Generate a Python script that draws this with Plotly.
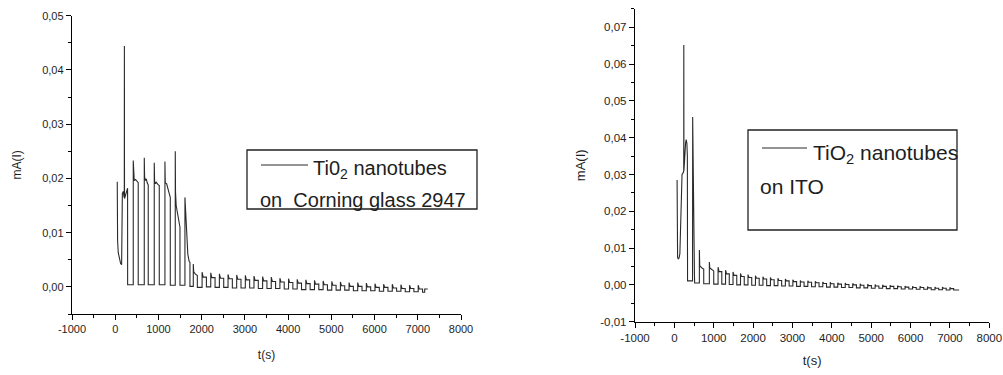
import plotly.graph_objects as go

W, H = 1003, 375

# ---------------- Left panel data (TiO2 nanotubes on Corning glass 2947) ----------------
# irregular start + large chopped cycles
t_left_head = [47, 49, 55, 70, 95, 125, 148, 152, 165, 185, 205, 210, 212, 215, 235, 255, 275, 286, 287,
               417, 417, 425, 440, 470, 500, 532, 532,
               672, 672, 680, 700, 720, 740, 764, 764,
               903, 903, 911, 930, 950, 985, 1019, 1019,
               1150, 1150, 1158, 1190, 1220, 1250, 1274, 1274,
               1389, 1389, 1395, 1410, 1440, 1470, 1498, 1498,
               1613, 1613, 1625, 1650, 1680, 1710, 1729, 1729,
               1806, 1806, 1816, 1850, 1900, 1900]
i_left_head = [0.0194, 0.0125, 0.0085, 0.0063, 0.0050, 0.0043, 0.0041, 0.0160, 0.0172, 0.0176, 0.0165, 0.0180, 0.0444, 0.0163, 0.0168, 0.0176, 0.0180, 0.0182, 0.0004,
               0.0004, 0.0233, 0.0205, 0.0196, 0.0198, 0.0195, 0.0192, 0.0004,
               0.0004, 0.0238, 0.0203, 0.0196, 0.0199, 0.0192, 0.0188, 0.0004,
               0.0004, 0.0229, 0.0195, 0.0190, 0.0193, 0.0189, 0.0187, 0.0004,
               0.0004, 0.0231, 0.0192, 0.0190, 0.0183, 0.0172, 0.0165, 0.0003,
               0.0003, 0.0250, 0.0175, 0.0150, 0.0138, 0.0125, 0.0110, 0.0003,
               0.0003, 0.0165, 0.0140, 0.0095, 0.0060, 0.0047, 0.0045, 0.0001,
               0.0001, 0.0042, 0.0028, 0.0024, 0.0021, -0.0001]
# small chopped cycles of the tail: light-on time, light-off time, spike, on-level, off-level
tail_on_L = [2010, 2210, 2410, 2610, 2810, 3010, 3210, 3410, 3610, 3810, 4010, 4210, 4410,
             4610, 4810, 5010, 5210, 5410, 5610, 5810, 6010, 6210, 6410, 6610, 6810, 7010]
tail_off_L = [2110, 2310, 2510, 2710, 2910, 3110, 3310, 3510, 3710, 3910, 4110, 4310, 4510,
              4710, 4910, 5110, 5310, 5510, 5710, 5910, 6110, 6310, 6510, 6710, 6910, 7110]
tail_peak_L = [0.0027, 0.0026, 0.0024, 0.0023, 0.0022, 0.0021, 0.0020, 0.0019, 0.0018, 0.0016, 0.0015, 0.0014, 0.0013,
               0.0012, 0.0011, 0.0010, 0.0009, 0.0008, 0.0008, 0.0007, 0.0006, 0.0005, 0.0005, 0.0004, 0.0003, 0.0003]
tail_level_L = [0.0018, 0.0017, 0.0016, 0.0015, 0.0014, 0.0013, 0.0012, 0.0011, 0.0010, 0.0009, 0.0008, 0.0007, 0.0006,
                0.0005, 0.0004, 0.0003, 0.0002, 0.0001, 0.0001, 0.0000, -0.0001, -0.0001, -0.0002, -0.0003, -0.0003, -0.0004]
tail_base_L = [0.0000, -0.0001, -0.0001, -0.0002, -0.0002, -0.0002, -0.0003, -0.0003, -0.0003, -0.0004, -0.0004, -0.0005, -0.0005,
               -0.0005, -0.0006, -0.0006, -0.0006, -0.0007, -0.0007, -0.0007, -0.0008, -0.0008, -0.0008, -0.0009, -0.0009, -0.0010]
t_left_end = [7160, 7160, 7231]
i_left_end = [-0.0010, -0.0004, -0.0004]

# ---------------- Right panel data (TiO2 nanotubes on ITO) ----------------
t_right_head = [69, 70, 74, 82, 100, 120, 140, 160, 175, 195, 225, 238, 240, 243, 260, 285, 300, 318, 330, 335,
                462, 465, 470, 480, 490, 500, 510, 515,
                635, 635, 645, 700, 746, 746,
                889, 889, 900, 950, 1000, 1000]
i_right_head = [0.0285, 0.0150, 0.0095, 0.0075, 0.0071, 0.0073, 0.0085, 0.0160, 0.0260, 0.0300, 0.0305, 0.0310, 0.0652, 0.0310, 0.0340, 0.0385, 0.0395, 0.0385, 0.0350, 0.0011,
                0.0011, 0.0456, 0.0360, 0.0340, 0.0250, 0.0120, 0.0030, 0.0005,
                0.0005, 0.0095, 0.0052, 0.0046, 0.0043, 0.0003,
                0.0003, 0.0062, 0.0046, 0.0042, 0.0038, 0.0002]
tail_on_R = [1110, 1300, 1490, 1680, 1870, 2060, 2250, 2440, 2630, 2820, 3010, 3200, 3390, 3580, 3770, 3960,
             4150, 4340, 4530, 4720, 4910, 5100, 5290, 5480, 5670, 5860, 6050, 6240, 6430, 6620, 6810, 7000]
tail_off_R = [1205, 1395, 1585, 1775, 1965, 2155, 2345, 2535, 2725, 2915, 3105, 3295, 3485, 3675, 3865, 4055,
              4245, 4435, 4625, 4815, 5005, 5195, 5385, 5575, 5765, 5955, 6145, 6335, 6525, 6715, 6905, 7095]
tail_peak_R = [0.0048, 0.0040, 0.0035, 0.0031, 0.0028, 0.0025, 0.0022, 0.0020, 0.0018, 0.0016, 0.0014, 0.0012, 0.0011, 0.0010, 0.0008, 0.0007,
               0.0006, 0.0005, 0.0004, 0.0003, 0.0002, 0.0001, 0.0000, -0.0001, -0.0002, -0.0003, -0.0004, -0.0004, -0.0005, -0.0006, -0.0006, -0.0007]
tail_level_R = [0.0036, 0.0030, 0.0026, 0.0023, 0.0020, 0.0018, 0.0016, 0.0014, 0.0012, 0.0011, 0.0009, 0.0008, 0.0007, 0.0006, 0.0004, 0.0003,
                0.0002, 0.0001, 0.0000, -0.0001, -0.0002, -0.0003, -0.0004, -0.0004, -0.0005, -0.0006, -0.0007, -0.0007, -0.0008, -0.0009, -0.0009, -0.0010]
tail_base_R = [0.0002, 0.0001, 0.0000, 0.0000, -0.0001, -0.0001, -0.0002, -0.0002, -0.0003, -0.0003, -0.0004, -0.0004, -0.0005, -0.0005, -0.0006, -0.0006,
               -0.0007, -0.0007, -0.0008, -0.0008, -0.0009, -0.0009, -0.0010, -0.0010, -0.0011, -0.0011, -0.0012, -0.0012, -0.0013, -0.0013, -0.0014, -0.0014]
t_right_end = [7233]
i_right_end = [-0.0014]

# tick labels
x_tickvals = [-1000, 0, 1000, 2000, 3000, 4000, 5000, 6000, 7000, 8000]
x_ticktext = ["-1000", "0", "1000", "2000", "3000", "4000", "5000", "6000", "7000", "8000"]
yL_tickvals = [0.00, 0.01, 0.02, 0.03, 0.04, 0.05]
yL_ticktext = ["0,00", "0,01", "0,02", "0,03", "0,04", "0,05"]
yR_tickvals = [-0.01, 0.00, 0.01, 0.02, 0.03, 0.04, 0.05, 0.06, 0.07]
yR_ticktext = ["-0,01", "0,00", "0,01", "0,02", "0,03", "0,04", "0,05", "0,06", "0,07"]


def build(t_head, i_head, on, off, peak, level, base, t_end, i_end):
    t = list(t_head)
    y = list(i_head)
    prev = y[-1]
    for k in range(len(on)):
        t += [on[k], on[k], on[k] + 25, off[k], off[k]]
        y += [prev, peak[k], level[k], level[k], base[k]]
        prev = base[k]
    t += list(t_end)
    y += list(i_end)
    return t, y


tL, yL = build(t_left_head, i_left_head, tail_on_L, tail_off_L, tail_peak_L, tail_level_L, tail_base_L, t_left_end, i_left_end)
tR, yR = build(t_right_head, i_right_head, tail_on_R, tail_off_R, tail_peak_R, tail_level_R, tail_base_R, t_right_end, i_right_end)

TXT = "#1e1e1e"
LINE = dict(color="#2a2a2a", width=1.1)
fig = go.Figure()
fig.add_trace(go.Scatter(x=tL, y=yL, mode="lines", line=LINE, xaxis="x", yaxis="y", showlegend=False, hoverinfo="skip"))
fig.add_trace(go.Scatter(x=tR, y=yR, mode="lines", line=LINE, xaxis="x2", yaxis="y2", showlegend=False, hoverinfo="skip"))

FONT = "Liberation Sans, Arial, sans-serif"


def px_x(p):
    return p / W


def px_y(p):
    return 1 - p / H


axis_common = dict(showline=True, linecolor="black", linewidth=1.4, ticks="outside", ticklen=5,
                   tickwidth=1.2, tickcolor="black", showgrid=False, zeroline=False, mirror=False,
                   tickmode="array")

fig.update_layout(
    template="none",
    width=W, height=H, margin=dict(l=0, r=0, t=0, b=0),
    paper_bgcolor="white", plot_bgcolor="white", showlegend=False,
    font=dict(family=FONT, color=TXT),
    xaxis=dict(axis_common, domain=[px_x(72), px_x(461)], range=[-1000, 8000], anchor="y",
               tickvals=x_tickvals, ticktext=x_ticktext, tickfont=dict(size=11, color=TXT),
               title=dict(text="t(s)", font=dict(size=12, color=TXT), standoff=16),
               minor=dict(ticks="outside", ticklen=3, dtick=500, tick0=0, tickcolor="black")),
    yaxis=dict(axis_common, domain=[px_y(314), px_y(15.7)], range=[-0.005, 0.05], anchor="x",
               tickvals=yL_tickvals, ticktext=yL_ticktext, tickfont=dict(size=11, color=TXT),
               title=dict(text="mA(I)", font=dict(size=12, color=TXT), standoff=17),
               minor=dict(ticks="outside", ticklen=3, dtick=0.005, tick0=0, tickcolor="black")),
    xaxis2=dict(axis_common, domain=[px_x(635), px_x(989.3)], range=[-1000, 8000], anchor="y2",
                tickvals=x_tickvals, ticktext=x_ticktext, tickfont=dict(size=11.5, color=TXT),
                title=dict(text="t(s)", font=dict(size=13, color=TXT), standoff=13),
                minor=dict(ticks="outside", ticklen=3, dtick=500, tick0=0, tickcolor="black")),
    yaxis2=dict(axis_common, domain=[px_y(321.7), px_y(8.9)], range=[-0.01, 0.075], anchor="x2",
                tickvals=yR_tickvals, ticktext=yR_ticktext, tickfont=dict(size=11.5, color=TXT),
                title=dict(text="mA(I)", font=dict(size=13, color=TXT), standoff=11),
                minor=dict(ticks="outside", ticklen=3, dtick=0.005, tick0=0, tickcolor="black")),
)

shapes = [
    # legend boxes
    dict(type="rect", xref="paper", yref="paper", x0=px_x(247), x1=px_x(477), y0=px_y(209), y1=px_y(150),
         line=dict(color="#222", width=1.3)),
    dict(type="line", xref="paper", yref="paper", x0=px_x(261), x1=px_x(308), y0=px_y(165), y1=px_y(165),
         line=dict(color="#2a2a2a", width=1.1)),
    dict(type="rect", xref="paper", yref="paper", x0=px_x(748), x1=px_x(957), y0=px_y(230), y1=px_y(130),
         line=dict(color="#222", width=1.3)),
    dict(type="line", xref="paper", yref="paper", x0=px_x(762), x1=px_x(807), y0=px_y(148), y1=px_y(148),
         line=dict(color="#2a2a2a", width=1.1)),
]
fig.update_layout(shapes=shapes)

ann = [
    dict(text="Ti0<sub>2</sub> nanotubes", x=px_x(311), y=px_y(169), xanchor="left", yanchor="middle",
         font=dict(size=20, color=TXT)),
    dict(text="on\u00a0\u00a0Corning glass 2947", x=px_x(258), y=px_y(200), xanchor="left", yanchor="middle",
         font=dict(size=20, color=TXT)),
    dict(text="TiO<sub>2</sub> nanotubes", x=px_x(811), y=px_y(154), xanchor="left", yanchor="middle",
         font=dict(size=21, color=TXT)),
    dict(text="on ITO", x=px_x(758), y=px_y(186), xanchor="left", yanchor="middle",
         font=dict(size=21, color=TXT)),
]
for a in ann:
    a.update(xref="paper", yref="paper", showarrow=False)
fig.update_layout(annotations=ann)

fig.write_html("out.html")
